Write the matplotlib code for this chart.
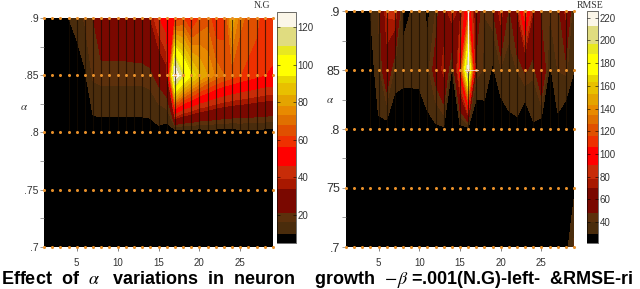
import numpy as np
import matplotlib
matplotlib.use("Agg")
import matplotlib.pyplot as plt
from matplotlib.cm import ScalarMappable
from matplotlib.colors import ListedColormap, BoundaryNorm

plt.rcParams['font.family'] = ['Liberation Sans', 'DejaVu Sans']
plt.rcParams['mathtext.fontset'] = 'stix'

# x positions (1..29) and alpha rows
x_vals = np.arange(1, 30)
alpha_rows = [.7, .75, .8, .85, .9]

# left panel, N.G, one list per alpha row
ng_70 = [0] * 29
ng_75 = [0] * 29
ng_80 = [2, 2, 2, 2, 3, 4, 7, 7, 7, 7, 7, 7, 7, 7, 8, 6, 3, 4, 5, 5, 6, 6, 6, 6, 7, 7, 7, 7, 7]
ng_85 = [2, 2, 2, 3, 5, 9, 17, 18, 18, 18, 18, 18, 18, 19, 24, 30, 132, 108, 95, 85, 78, 72, 68, 65, 62, 60, 58, 56, 55]
ng_90 = [2, 2, 4, 10, 13, 17, 21, 30, 30, 30, 30, 31, 32, 34, 45, 52, 56, 62, 52, 62, 66, 56, 58, 82, 70, 66, 64, 58, 60]

# right panel, RMSE
rmse_70 = [22] * 27 + [25, 42]
rmse_75 = [22] * 28 + [27]
rmse_80 = [22, 22, 22, 22, 28, 24, 20, 20, 20, 21, 27, 27, 28, 24, 24, 24, 14, 22, 22, 20, 27, 27, 11, 28, 20, 24, 26, 18, 22]
rmse_85 = [24, 24, 24, 24, 36, 62, 36, 34, 34, 34, 36, 55, 75, 28, 100, 225, 45, 38, 28, 38, 36, 40, 50, 42, 70, 27, 40, 42, 30]
rmse_90 = [24, 24, 25, 30, 40, 80, 85, 26, 30, 38, 26, 40, 62, 80, 64, 105, 55, 40, 45, 80, 44, 70, 118, 70, 42, 40, 40, 75, 28]

ng_levels = [5, 10, 16, 21, 34, 39, 46, 56, 62, 68, 73, 78, 84, 90, 94, 105, 110, 120, 128]
ng_ticks = [20, 40, 60, 80, 100, 120]
rmse_levels = [21.5, 29.8, 39.8, 48, 70, 78, 90, 106, 116, 126, 134, 143, 153, 163, 170, 188, 197, 213, 226]
rmse_ticks = [40, 60, 80, 100, 120, 140, 160, 180, 200, 220]

band_colors = ['#000000', '#4a2c0c', '#5c300c', '#7a0800', '#a81800', '#c82c08', '#ff0000', '#ee3000', '#e05000',
               '#e07000', '#e88a00', '#e4a400', '#e8c000', '#e8d800', '#ffff00', '#e8e820', '#e0dc80', '#fbf6e8']
cmap = ListedColormap(band_colors)
cmap.set_under(band_colors[0])
cmap.set_over(band_colors[-1])


def px_axes(fig, x0, y0, x1, y1):
    # pixel box measured from the top left of the picture
    W, H = 640, 289
    return fig.add_axes([x0 / W, 1 - y1 / H, (x1 - x0) / W, (y1 - y0) / H])


def panel(fig, box, cbox, rows, levels, ticks, ylabels, yfont, title, title_pos, alpha_pos):
    ax = px_axes(fig, *box)
    norm = BoundaryNorm(levels, len(band_colors))
    ax.contourf(x_vals, alpha_rows, np.array(rows), levels=levels, cmap=cmap, norm=norm, extend='both')
    ax.vlines(x_vals[3:], .8, .9, color='#180c00', lw=.8, alpha=.7)
    for a in alpha_rows:
        ax.plot(x_vals, [a] * len(x_vals), ls='none', marker='o', ms=2.2, color='#e8902a', mew=0, clip_on=False)
    ax.set_xlim(1, 29)
    ax.set_ylim(.7, .9)
    ax.set_xticks([5, 10, 15, 20, 25])
    ax.set_yticks(alpha_rows)
    ax.set_yticks([.725, .775, .825, .875], minor=True)
    ax.set_yticklabels(ylabels, fontsize=yfont, color='#333333')
    ax.tick_params(axis='x', labelsize=7, length=3, width=.5, color='#555555', labelcolor='#333333', pad=5)
    ax.tick_params(axis='y', which='both', length=3, width=.5, color='#777777', pad=1)
    for s in ax.spines.values():
        s.set_visible(False)
    fig.text(alpha_pos[0] / 640, 1 - alpha_pos[1] / 289, r'$\alpha$', fontsize=8, color='#333333', ha='center', va='center')

    cax = px_axes(fig, *cbox)
    cb = fig.colorbar(ScalarMappable(norm=norm, cmap=cmap), cax=cax, ticks=ticks, extend='neither', spacing='proportional')
    cb.outline.set_linewidth(.4)
    cb.ax.minorticks_off()
    cb.ax.tick_params(labelsize=7, length=2, width=.4, direction='in', left=True, labelcolor='#333333', pad=1)
    fig.text(title_pos[0] / 640, 1 - title_pos[1] / 289, title, fontsize=7, color='#333333', family='Liberation Serif',
             ha='center', va='center')
    return ax


fig = plt.figure(figsize=(6.4, 2.89), dpi=100)

ax1 = panel(fig, (44, 18, 273, 247), (277, 12, 296, 243), [ng_70, ng_75, ng_80, ng_85, ng_90],
            ng_levels, ng_ticks, ['.7', '.75', '.8', '.85', '.9'], 7.5, 'N.G', (262, 5), (24, 107))
ax2 = panel(fig, (346, 11, 574, 247), (587, 11, 598, 243), [rmse_70, rmse_75, rmse_80, rmse_85, rmse_90],
            rmse_levels, rmse_ticks, ['.7', '75', '.8', '85', '.9'], 9, 'RMSE', (590, 5), (330, 100))

# white highlight at the two peaks
ax1.plot([16.6, 17.6], [.85, .85], color='white', lw=.8, alpha=.8)
ax2.plot([16, 16], [.85, .9], color='#f4f0e8', lw=.9)
ax2.plot([15.6, 17.2], [.85, .85], color='#f4f0e8', lw=.7, alpha=.8)

fig.text(1 / 640, 1 - 280 / 289,
         r'Effect  of  $\alpha$   variations  in  neuron    growth  $-\beta$ =.001(N.G)-left-  &RMSE-ri',
         fontsize=13, fontweight='bold', ha='left', va='center', color='black')

fig.savefig('out.png', dpi=100)
